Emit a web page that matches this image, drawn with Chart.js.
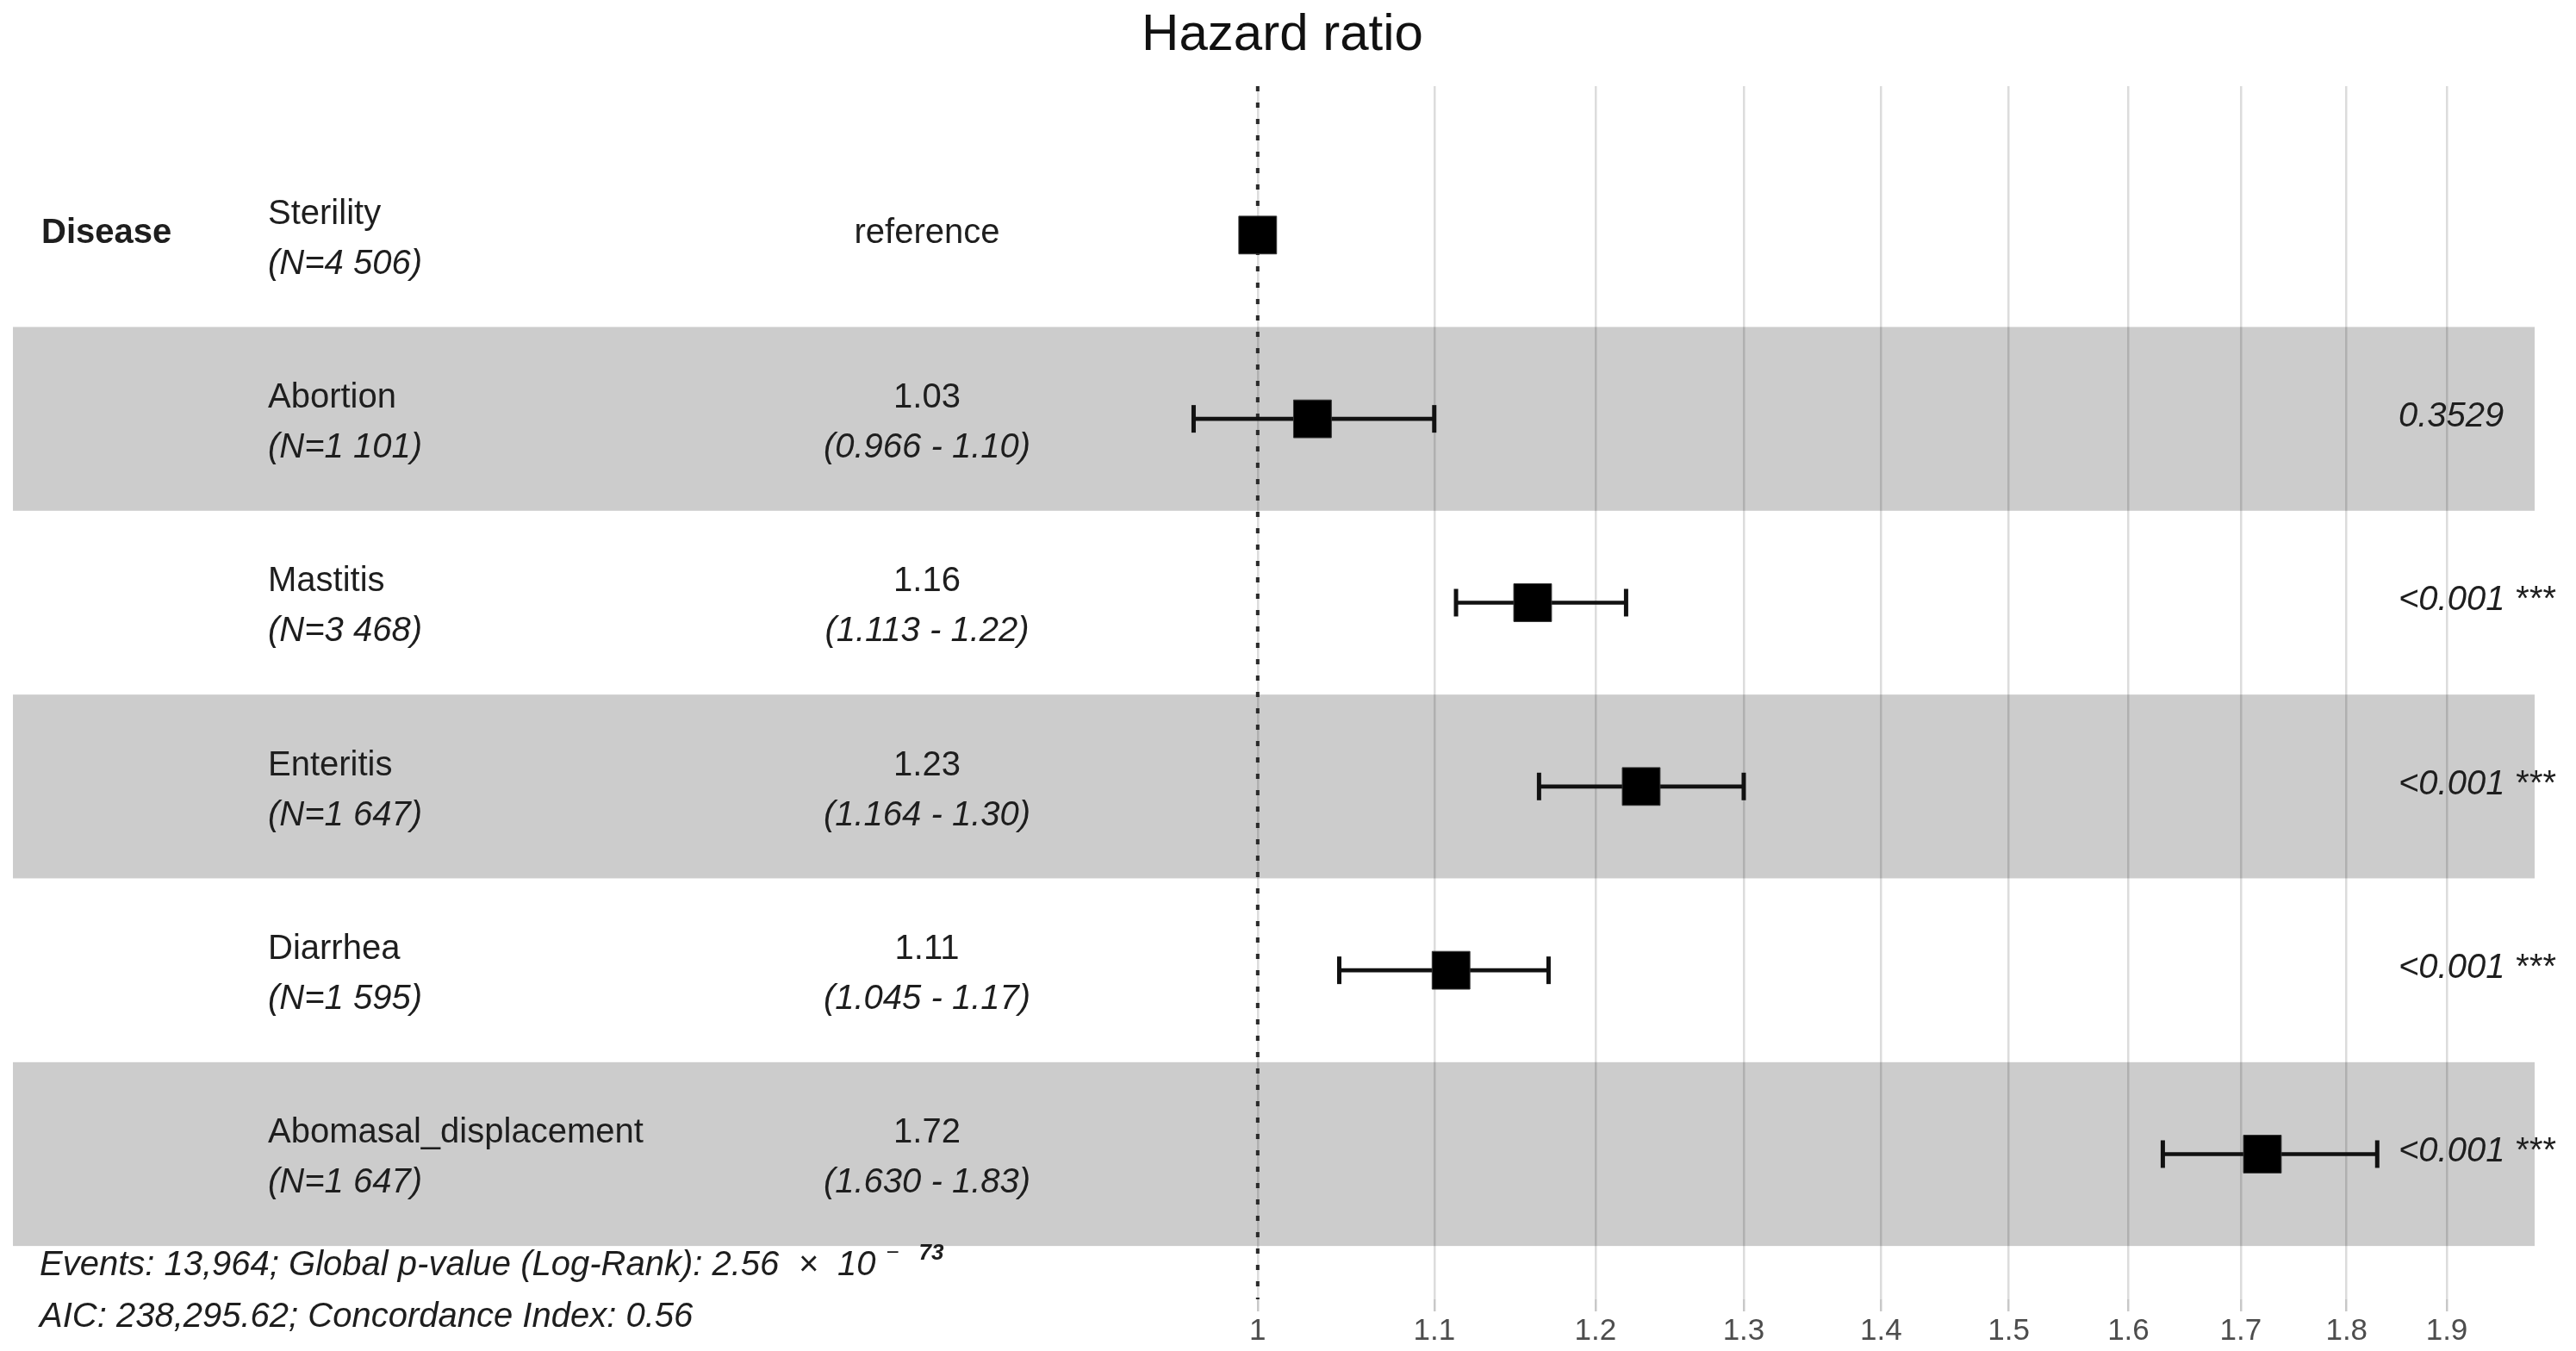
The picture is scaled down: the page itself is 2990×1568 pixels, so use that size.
<!DOCTYPE html>
<html lang="en">
<head>
<title>Hazard ratio forest plot</title>
<meta charset="utf-8"/>
<script src="https://cdn.jsdelivr.net/npm/chart.js"></script>
<style>
html, body {
  margin: 0;
  padding: 0;
  background: #ffffff;
}
</style>
</head>
<body>
<canvas id="chart" width="2990" height="1568"></canvas>
<script>
"use strict";
const groupLabel = "Disease";
const diseases = ["Sterility", "Abortion", "Mastitis", "Enteritis", "Diarrhea", "Abomasal_displacement"];
const counts   = ["4 506", "1 101", "3 468", "1 647", "1 595", "1 647"];
const hazard   = [1, 1.03, 1.16, 1.23, 1.11, 1.72];
const ciLow    = [null, 0.966, 1.113, 1.164, 1.045, 1.630];
const ciHigh   = [null, 1.10, 1.22, 1.30, 1.17, 1.83];
const pValues  = [null, "0.3529", "<0.001", "<0.001", "<0.001", "<0.001"];
const stars    = ["", "", "***", "***", "***", "***"];
const tickValues = [1, 1.1, 1.2, 1.3, 1.4, 1.5, 1.6, 1.7, 1.8, 1.9];
const footerEvents = "Events: 13,964; Global p-value (Log-Rank): 2.56  \u00d7  10";
const footerExp = "73";
const footerAic = "AIC: 238,295.62; Concordance Index: 0.56";

const FONT = '"Liberation Sans", Arial, Helvetica, sans-serif';
const Y_MIN = 0.19, Y_MAX = 6.79;
const BAND_LEFT = 15;

// row positions, Sterility on top
const rowPos = diseases.map((d, i) => i + 1);

const ciData = [];
const capData = [];
for(let i = 0; i < diseases.length; i++){
  if(ciLow[i] === null) continue;
  ciData.push({x: [ciLow[i], ciHigh[i]], y: rowPos[i]});
  capData.push({x: ciLow[i], y: rowPos[i]});
  capData.push({x: ciHigh[i], y: rowPos[i]});
}
const hrData = hazard.map((v, i) => ({x: v, y: rowPos[i]}));

// alternating grey bands, drawn over the grid like ggplot does
const bandsPlugin = {
  id: "bands",
  beforeDatasetsDraw(chart){
    const ctx = chart.ctx;
    const ys = chart.scales.y;
    const area = chart.chartArea;
    ctx.save();
    ctx.fillStyle = "rgba(0,0,0,0.2)";
    for(let i = 1; i < rowPos.length; i += 2){
      const top = ys.getPixelForValue(rowPos[i] - 0.5);
      const bot = ys.getPixelForValue(rowPos[i] + 0.5);
      ctx.fillRect(BAND_LEFT, top, area.right - BAND_LEFT, bot - top);
    }
    ctx.restore();
  }
};

const textPlugin = {
  id: "forestText",
  afterDatasetsDraw(chart){
    const ctx = chart.ctx;
    const ys = chart.scales.y;
    ctx.save();
    ctx.fillStyle = "#1e1e1e";
    ctx.textBaseline = "alphabetic";

    ctx.font = "bold 40px " + FONT;
    ctx.textAlign = "left";
    ctx.fillText(groupLabel, 48, ys.getPixelForValue(rowPos[0]) + 9);

    for(let i = 0; i < diseases.length; i++){
      const cy = ys.getPixelForValue(rowPos[i]);
      ctx.textAlign = "left";
      ctx.font = "40px " + FONT;
      ctx.fillText(diseases[i], 311, cy - 13);
      ctx.font = "italic 40px " + FONT;
      ctx.fillText("(N=" + counts[i] + ")", 311, cy + 45);

      ctx.textAlign = "center";
      if(ciLow[i] === null){
        ctx.font = "40px " + FONT;
        ctx.fillText("reference", 1076, cy + 9);
      }else{
        ctx.font = "40px " + FONT;
        ctx.fillText(hazard[i].toFixed(2), 1076, cy - 13);
        ctx.font = "italic 40px " + FONT;
        ctx.fillText("(" + ciLow[i].toFixed(3) + " - " + ciHigh[i].toFixed(2) + ")", 1076, cy + 45);
      }

      if(pValues[i]){
        ctx.textAlign = "left";
        ctx.font = "italic 40px " + FONT;
        ctx.fillText(pValues[i] + (stars[i] ? " " + stars[i] : ""), 2784, cy + 9);
      }
    }

    // footer
    ctx.textAlign = "left";
    ctx.font = "italic 40px " + FONT;
    ctx.fillText(footerEvents, 46, 1480);
    const w = ctx.measureText(footerEvents).width;
    ctx.font = "italic 26px " + FONT;
    ctx.fillText("\u2212", 46 + w + 12, 1462);
    ctx.font = "italic bold 26px " + FONT;
    ctx.fillText(footerExp, 46 + w + 50, 1462);
    ctx.font = "italic 40px " + FONT;
    ctx.fillText(footerAic, 46, 1540);
    ctx.restore();
  }
};

new Chart(document.getElementById("chart"), {
  type: "scatter",
  data: {
    datasets: [
      {
        type: "line",
        label: "ref",
        data: [{x: 1, y: Y_MIN}, {x: 1, y: Y_MAX}],
        borderColor: "#2a2a2a",
        borderWidth: 4,
        borderDash: [6, 13],
        pointRadius: 0,
        order: 4
      },
      {
        type: "bar",
        label: "ci",
        indexAxis: "y",
        data: ciData,
        backgroundColor: "#111111",
        barThickness: 4,
        order: 3
      },
      {
        label: "caps",
        data: capData,
        pointStyle: "line",
        rotation: 90,
        pointRadius: 16,
        borderColor: "#111111",
        borderWidth: 5,
        order: 2
      },
      {
        label: "hr",
        data: hrData,
        pointStyle: "rect",
        pointRadius: 31,
        backgroundColor: "#000000",
        borderColor: "#333333",
        borderWidth: 1,
        order: 1
      }
    ]
  },
  options: {
    responsive: false,
    animation: false,
    events: [],
    layout: {
      autoPadding: false,
      padding: {left: 35, right: 48, top: 0, bottom: 0}
    },
    plugins: {
      legend: {display: false},
      tooltip: {enabled: false},
      title: {
        display: true,
        text: "Hazard ratio",
        color: "#111111",
        font: {family: FONT, size: 60, weight: "normal", lineHeight: 1.2},
        padding: {top: 5, bottom: 23}
      }
    },
    scales: {
      x: {
        type: "logarithmic",
        min: 0.5155,
        max: 1.9923,
        bounds: "data",
        offset: false,
        afterBuildTicks: (scale) => {
          scale.ticks = tickValues.map(v => ({value: v}));
        },
        border: {display: false},
        grid: {
          color: "#dcdcdc",
          lineWidth: 2.5,
          offset: false,
          drawTicks: true,
          tickLength: 14,
          tickColor: "#c8c8c8"
        },
        ticks: {
          autoSkip: false,
          maxRotation: 0,
          padding: 2,
          color: "#4d4d4d",
          font: {family: FONT, size: 35},
          callback: (v) => String(v)
        }
      },
      y: {
        type: "linear",
        reverse: true,
        min: Y_MIN,
        max: Y_MAX,
        offset: false,
        grid: {offset: false},
        display: false
      }
    }
  },
  plugins: [bandsPlugin, textPlugin]
});
</script>
</body>
</html>
